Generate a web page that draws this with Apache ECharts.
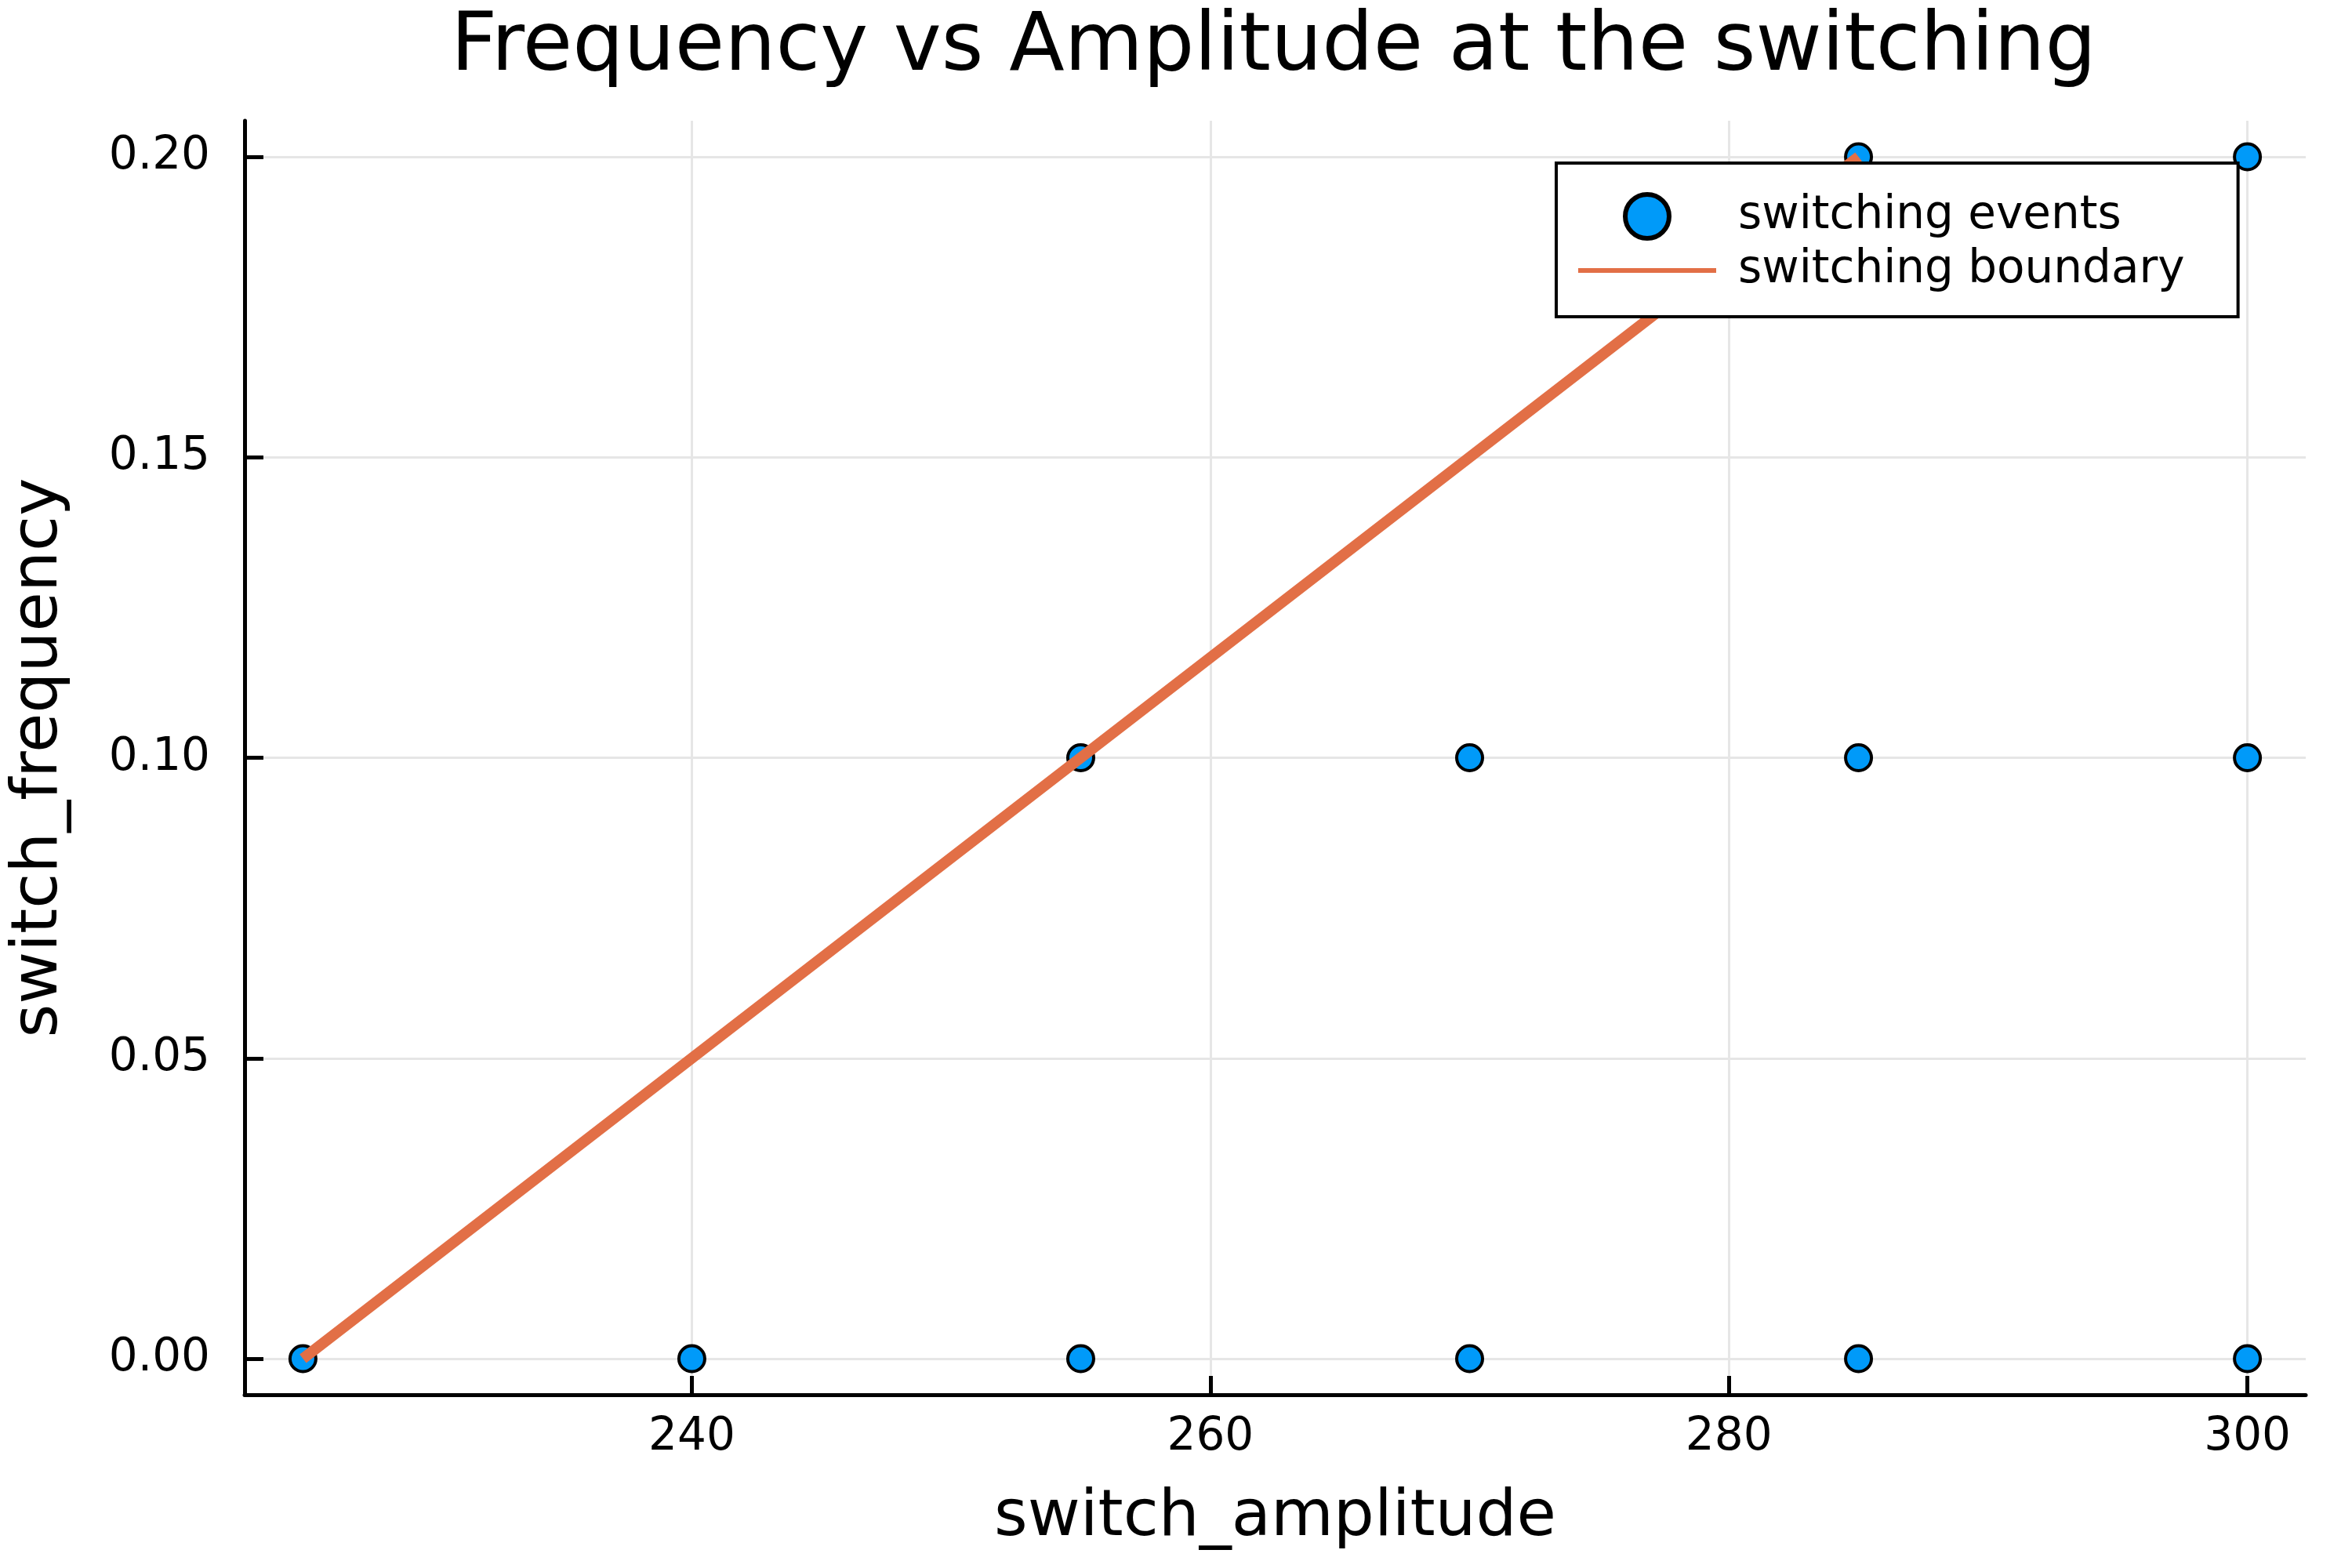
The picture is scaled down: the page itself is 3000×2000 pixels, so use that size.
<!DOCTYPE html>
<html>
<head>
<meta charset="utf-8">
<script src="https://cdn.jsdelivr.net/npm/echarts@6/dist/echarts.min.js"></script>
<style>
	html, body { margin: 0; padding: 0; background: #fff; }
	#chart { width: 3000px; height: 2000px; }
</style>
</head>
<body>
<div id="chart"></div>
<script>
// switching events (amplitude, frequency)
const eventAmplitude = [225, 240, 255, 270, 285, 300, 255, 270, 285, 300, 285, 300]
const eventFrequency = [0, 0, 0, 0, 0, 0, 0.1, 0.1, 0.1, 0.1, 0.2, 0.2]
// boundary line
const boundaryAmplitude = [225, 255, 285]
const boundaryFrequency = [0, 0.1, 0.2]
// ticks
const xTicks = [240, 260, 280, 300]
const yTicks = [0, 0.05, 0.1, 0.15, 0.2]

const font = 'DejaVu Sans'
const chart = echarts.init(document.getElementById('chart'))

const axisCommon = {
	type: 'value',
	nameLocation: 'middle',
	nameTextStyle: { fontFamily: font, fontSize: 82, color: '#000' },
	axisLine: { onZero: false, lineStyle: { color: '#000', width: 5 } },
	axisTick: { inside: true, length: 24, lineStyle: { color: '#000', width: 5 } },
	splitLine: { show: true, lineStyle: { color: '#e6e6e6', width: 3 } }
}

chart.setOption({
	animation: false,
	backgroundColor: '#fff',
	title: {
		text: 'Frequency vs Amplitude at the switching',
		left: 570,
		top: 6,
		textStyle: { fontFamily: font, fontSize: 103, fontWeight: 'normal', color: '#000' }
	},
	grid: { left: 312, top: 154, width: 2629, height: 1625, containLabel: false },
	legend: {
		orient: 'vertical',
		left: 1985,
		top: 208,
		selectedMode: false,
		padding: [37, 68, 30, 28],
		itemWidth: 176,
		itemHeight: 56,
		itemGap: 9,
		backgroundColor: '#fff',
		borderColor: '#000',
		borderWidth: 4,
		borderRadius: 0,
		textStyle: { fontFamily: font, fontSize: 58, color: '#000', padding: [0, 0, 0, 23] },
		data: [
			{ name: 'switching events', icon: 'circle', itemStyle: { borderWidth: 6, borderColor: '#000' } },
			// flat bar icon so only a line shows
			{ name: 'switching boundary', icon: 'path://M0,0 L176,0 L176,6 L0,6 Z', lineStyle: { width: 6 } }
		]
	},
	xAxis: Object.assign({}, axisCommon, {
		name: 'switch_amplitude',
		nameGap: 117,
		min: 222.75,
		max: 302.25,
		axisTick: Object.assign({}, axisCommon.axisTick, { customValues: xTicks }),
		axisLabel: { customValues: xTicks, margin: 26, fontFamily: font, fontSize: 58, color: '#000' }
	}),
	yAxis: Object.assign({}, axisCommon, {
		name: 'switch_frequency',
		nameGap: 220,
		min: -0.006,
		max: 0.206,
		axisTick: Object.assign({}, axisCommon.axisTick, { customValues: yTicks }),
		axisLabel: {
			customValues: yTicks, margin: 44, fontFamily: font, fontSize: 58, color: '#000',
			formatter: v => v.toFixed(2)
		}
	}),
	series: [
		{
			name: 'switching events',
			type: 'scatter',
			symbol: 'circle',
			symbolSize: 33,
			itemStyle: { color: '#009af9', borderColor: '#000', borderWidth: 4, opacity: 1 },
			data: eventAmplitude.map((a, i) => [a, eventFrequency[i]]),
			z: 2
		},
		{
			name: 'switching boundary',
			type: 'line',
			symbol: 'none',
			color: '#e26f46',
			lineStyle: { color: '#e26f46', width: 14, cap: 'butt' },
			data: boundaryAmplitude.map((a, i) => [a, boundaryFrequency[i]]),
			z: 3
		}
	]
})
</script>
</body>
</html>
